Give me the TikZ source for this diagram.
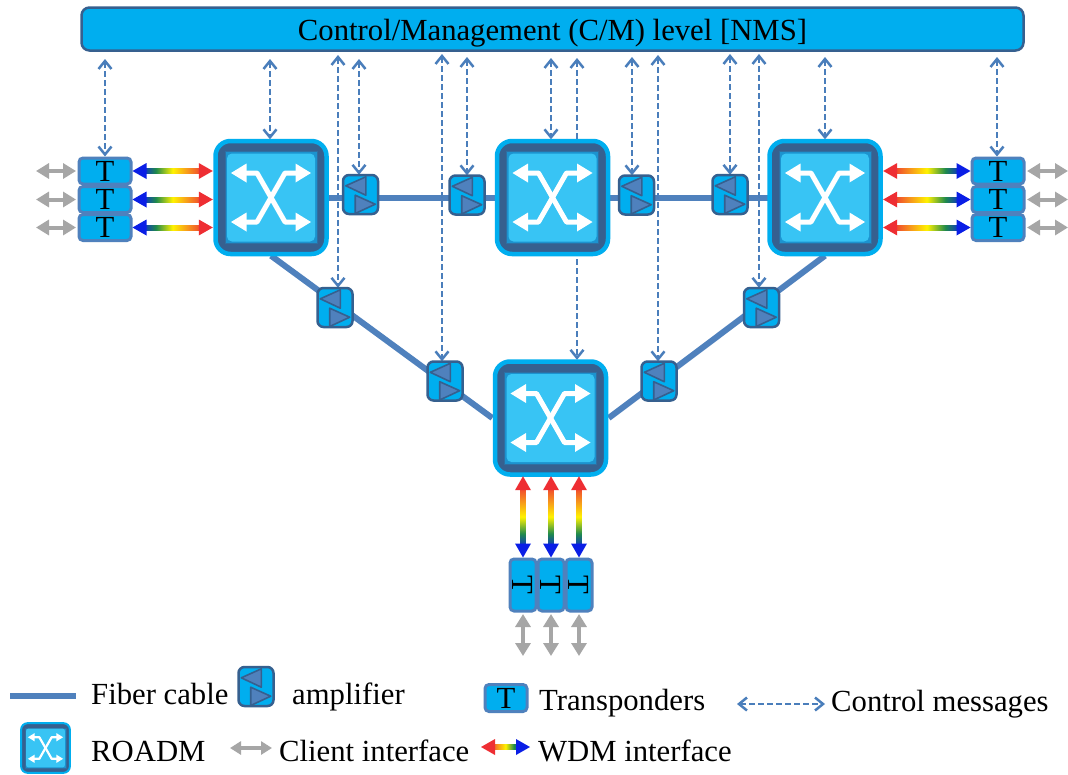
\documentclass[tikz,border=0pt]{standalone}
\usepackage{fontspec}
\setmainfont{Liberation Serif}
\usetikzlibrary{arrows.meta,calc}
\definecolor{cyanb}{HTML}{00AEEF}
\definecolor{darkb}{HTML}{36608F}
\definecolor{fiberb}{HTML}{4F81BD}
\definecolor{ctrlb}{HTML}{4A7EBB}
\definecolor{innerb}{HTML}{1C93CF}
\definecolor{lightb}{HTML}{38C4F4}
\definecolor{grayc}{HTML}{A6A6A6}
\definecolor{wblue}{HTML}{0A1EE6}
\definecolor{wgreen}{HTML}{1F8A4C}
\definecolor{wyel}{HTML}{FFF200}
\definecolor{worange}{HTML}{F7941D}
\definecolor{wred}{HTML}{EE2E33}
\pgfdeclarehorizontalshading{wdmBR}{100bp}{color(0bp)=(wblue);color(25bp)=(wblue);color(37bp)=(wgreen);color(50bp)=(wyel);color(62bp)=(worange);color(75bp)=(wred);color(100bp)=(wred)}
\pgfdeclarehorizontalshading{wdmRB}{100bp}{color(0bp)=(wred);color(25bp)=(wred);color(38bp)=(worange);color(50bp)=(wyel);color(63bp)=(wgreen);color(75bp)=(wblue);color(100bp)=(wblue)}
\pgfdeclareverticalshading{wdmV}{100bp}{color(0bp)=(wblue);color(25bp)=(wblue);color(37bp)=(wgreen);color(50bp)=(wyel);color(62bp)=(worange);color(75bp)=(wred);color(100bp)=(wred)}
\tikzset{
  x=1pt,y=-1pt,
  fiber/.style={draw=fiberb,line width=6pt},
  ctrl/.style={draw=ctrlb,line width=2.8pt,dash pattern=on 6pt off 3pt,
    {Straight Barb[length=8pt,width=13pt,line width=2.5pt]}-{Straight Barb[length=8pt,width=13pt,line width=2.5pt]}},
  client/.style={draw=grayc,line width=4pt,{Triangle[length=13pt,width=15pt]}-{Triangle[length=13pt,width=15pt]}},
  tbox/.style={draw=fiberb,fill=cyanb,line width=3pt,rounded corners=4pt,minimum width=52pt,minimum height=26pt,inner sep=0pt,font=\fontsize{30.7}{30.7}\selectfont},
  label/.style={anchor=base west,inner sep=0pt,font=\fontsize{30.7}{30.7}\selectfont},
}
% roadm: name, x, y, scale
\newcommand{\roadmbox}[4]{%
  \node[minimum size=#4*116pt,inner sep=0pt] (#1) at (#2,#3) {};
  \begin{scope}[shift={(#2,#3)},scale=#4]
    \draw[draw=cyanb,fill=darkb,line width=#4*4.5pt,rounded corners=#4*15pt] (-55.5,-56.5) rectangle (55.5,56.5);
    \fill[innerb] (-46,-46) rectangle (46,46);
    \draw[darkb!70!innerb,line width=#4*1pt] (-46,-46) rectangle (46,46);
    \fill[lightb,rounded corners=#4*5pt] (-44,-44) rectangle (44,44);
    \draw[white,line width=#4*5pt,line join=round] (-28,-24.5)--(-14,-24.5)--(14,24.5)--(28,24.5);
    \draw[white,line width=#4*5pt,line join=round] (-28,24.5)--(-14,24.5)--(14,-24.5)--(28,-24.5);
    \fill[white] (-40,-24.5)--(-24.5,-34)--(-24.5,-15)--cycle;
    \fill[white] (40,-24.5)--(24.5,-34)--(24.5,-15)--cycle;
    \fill[white] (-40,24.5)--(-24.5,15)--(-24.5,34)--cycle;
    \fill[white] (40,24.5)--(24.5,15)--(24.5,34)--cycle;
  \end{scope}}
% amplifier: name, x, y
\newcommand{\ampbox}[3]{%
  \node[draw=darkb,fill=cyanb,line width=2.5pt,rounded corners=6pt,minimum width=35pt,minimum height=39pt,inner sep=0pt] (#1) at (#2,#3) {};
  \begin{scope}[shift={(#2,#3)}]
    \draw[darkb,fill=fiberb,line width=1.6pt,line join=round] (-14.7,-8.7)--(5.3,-17.7)--(5.3,0.7)--cycle;
    \draw[darkb,fill=fiberb,line width=1.6pt,line join=round] (-5.3,0.7)--(-5.3,19)--(14.7,9.7)--cycle;
  \end{scope}}
% WDM arrows: shading, left colour, right colour, left end, right end
\newcommand{\wdmh}[5]{%
  \path[shading=#1] ($(#4)+(8,-2.5)$) rectangle ($(#5)+(-8,2.5)$);
  \fill[#2] (#4)--($(#4)+(14,-8)$)--($(#4)+(14,8)$)--cycle;
  \fill[#3] (#5)--($(#5)+(-14,-8)$)--($(#5)+(-14,8)$)--cycle;}
\newcommand{\wdmv}[2]{%
  \path[shading=wdmV] ($(#1)+(-2.5,8)$) rectangle ($(#2)+(2.5,-8)$);
  \fill[wred] (#1)--($(#1)+(-8,14)$)--($(#1)+(8,14)$)--cycle;
  \fill[wblue] (#2)--($(#2)+(-8,-14)$)--($(#2)+(8,-14)$)--cycle;}
\begin{document}
\begin{tikzpicture}
\useasboundingbox (0,0) rectangle (1068,774);
\fill[white] (0,0) rectangle (1068,774);
\node[draw=darkb,fill=cyanb,line width=2.5pt,rounded corners=8pt,minimum width=942pt,minimum height=43pt,inner sep=0pt,font=\fontsize{30.7}{30.7}\selectfont] (nms) at (552.5,29) {\raisebox{-11pt}[0pt][0pt]{Control/Management (C/M) level [NMS]}};
\foreach \n/\x/\y in {r1/271/197.5,r2/552.5/197.5,r3/825/197.5,r4/550.5/418}
  \node[minimum size=116pt,inner sep=0pt] (\n) at (\x,\y) {};
\foreach \n/\x/\y in {a1/360.5/194.5,a2/467/195,a3/636.5/195,a4/730/194.5,a5/335/307.5,a6/445/381,a7/659/381,a8/761.5/307.5}
  \node[minimum width=35pt,minimum height=39pt,inner sep=0pt] (\n) at (\x,\y) {};
% fibres
\draw[fiber] (r1.center)--(r3.center);
\draw[fiber] (r1.south)--(r4.west);
\draw[fiber] (r3.south)--(r4.east);
% transponders (left and right stacks)
\foreach \n/\y in {1/171,2/199.5,3/227.5}{
  \node[tbox] (tl\n) at (105,\y) {T};
  \node[tbox] (tr\n) at (998,\y) {T};
}
% control messages
\foreach \cx/\tgt/\yt in {338/a5/55,359/a1/59,442/a6/54,467/a2/57,577/r4/58,632/a3/57,658/a7/55,730/a4/54,759/a8/54,270/r1/59,551/r2/58,825/r3/57,105/tl1/59,997/tr1/57}
  \draw[ctrl] (\cx,\yt) -- (\cx,\yt |- \tgt.north);
% ROADMs
\roadmbox{R1}{271}{197.5}{1}
\roadmbox{R2}{552.5}{197.5}{1}
\roadmbox{R3}{825}{197.5}{1}
\roadmbox{R4}{550.5}{418}{1}
% amplifiers
\ampbox{A1}{360.5}{194.5}
\ampbox{A2}{467}{195}
\ampbox{A3}{636.5}{195}
\ampbox{A4}{730}{194.5}
\ampbox{A5}{335}{307.5}
\ampbox{A6}{445}{381}
\ampbox{A7}{659}{381}
\ampbox{A8}{761.5}{307.5}
% interfaces
\foreach \n/\y in {1/171,2/199.5,3/227.5}{
  \coordinate (cl\n) at (36,\y);
  \coordinate (cr\n) at (1068,\y);
  \draw[client] (cl\n) -- ([xshift=-1.5pt]tl\n.west);
  \draw[client] ([xshift=1.5pt]tr\n.east) -- (cr\n);
  \wdmh{wdmBR}{wblue}{wred}{tl\n.east}{R1.west |- tl\n.east}
  \wdmh{wdmRB}{wred}{wblue}{R3.east |- tr\n.west}{tr\n.west}
}
\foreach \n/\x in {1/523,2/551,3/579}{
  \node[tbox,rotate=-90] (tb\n) at (\x,585) {T};
  \coordinate (cb\n) at (\x,656);
  \draw[client] ([yshift=-1.5pt]tb\n.east) -- (cb\n);
  \wdmv{R4.south -| tb\n.west}{tb\n.west}
}
% legend
\coordinate (lf1) at (10,696); \coordinate (lf2) at (76,696);
\draw[draw=fiberb,line width=6pt] (lf1)--(lf2);
\node[label] (l1) at (91,704) {Fiber cable};
\ampbox{Lamp}{256}{686.5}
\node[label] (l2) at (292,704) {amplifier};
\node[tbox,minimum width=42pt,minimum height=27pt] (Lt) at (506,698) {T};
\node[label] (l3) at (539,710) {Transponders};
\coordinate (lc1) at (737,704); \coordinate (lc2) at (825,704);
\draw[ctrl] (lc1)--(lc2);
\node[label] (l4) at (831,711) {Control messages};
\roadmbox{LR}{45.5}{748}{0.44}
\node[label] (l5) at (91,761.5) {ROADM};
\coordinate (lg1) at (230,748); \coordinate (lg2) at (272,748);
\draw[draw=grayc,line width=3.5pt,{Triangle[length=11pt,width=13pt]}-{Triangle[length=11pt,width=13pt]}] (lg1)--(lg2);
\node[label] (l6) at (279,761.5) {Client interface};
\coordinate (lw1) at (481,747); \coordinate (lw2) at (530,747);
\wdmh{wdmRB}{wred}{wblue}{lw1}{lw2}
\node[label] (l7) at (538,761.5) {WDM interface};
\end{tikzpicture}
\end{document}
